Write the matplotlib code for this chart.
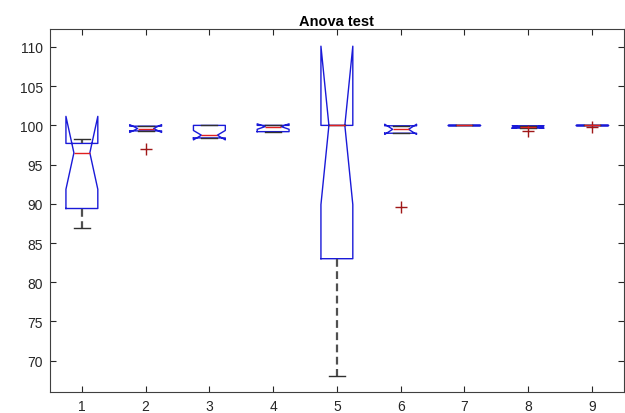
import matplotlib
matplotlib.use("Agg")
import matplotlib.pyplot as plt

plt.rcParams['font.family'] = ['Liberation Sans', 'DejaVu Sans']

# group labels and box statistics
groups = [1, 2, 3, 4, 5, 6, 7, 8, 9]
medians = [96.5, 99.6, 98.75, 99.85, 100.0, 99.5, 100.0, 99.8, 100.0]
q1s = [89.4, 99.3, 98.4, 99.2, 83.0, 99.0, 100.0, 99.65, 100.0]
q3s = [97.7, 99.9, 100.0, 100.0, 100.0, 99.95, 100.0, 99.95, 100.0]
notch_lo = [91.85, 99.1, 98.15, 99.5, 89.9, 98.85, 100.0, 99.65, 100.0]
notch_hi = [101.15, 100.1, 99.35, 100.2, 110.1, 100.15, 100.0, 99.95, 100.0]
whisk_lo = [86.9, 99.3, 98.4, 99.2, 68.0, 99.0, 100.0, 99.65, 100.0]
whisk_hi = [98.25, 99.9, 100.0, 100.0, 100.0, 99.95, 100.0, 99.95, 100.0]
outliers = [[], [97.0], [], [], [], [89.6], [], [99.3], [99.85]]

stats = []
for i in range(len(groups)):
    stats.append(dict(med=medians[i], q1=q1s[i], q3=q3s[i],
                      cilo=notch_lo[i], cihi=notch_hi[i],
                      whislo=whisk_lo[i], whishi=whisk_hi[i],
                      fliers=outliers[i], label=str(groups[i])))

fig = plt.figure(figsize=(6.25, 4.14), dpi=100)
ax = fig.add_axes([0.08, 0.0507, 0.918, 0.877])

ax.bxp(stats, positions=groups, widths=0.5, shownotches=True,
       boxprops=dict(color='#1a1ad8', linewidth=1.0),
       medianprops=dict(color='#e02020', linewidth=1.0),
       whiskerprops=dict(color='#505050', linewidth=1.6, linestyle=(0, (3.5, 2))),
       capprops=dict(color='#303030', linewidth=1.0),
       flierprops=dict(marker='+', markeredgecolor='#a01818', markersize=8,
                       markeredgewidth=1.0, linestyle='none'))

ax.set_xlim(0.5, 9.5)
ax.set_ylim(66.0, 112.3)
ax.set_yticks([70, 75, 80, 85, 90, 95, 100, 105, 110])
ax.set_xticks(groups)
ax.set_xticklabels([str(g) for g in groups])
ax.tick_params(direction='in', top=True, right=True, length=4,
               labelsize=10, colors='#262626', width=0.8)
ax.tick_params(axis='y', pad=5)
ax.tick_params(axis='x', pad=5)
for s in ax.spines.values():
    s.set_color('#404040')
    s.set_linewidth(0.8)
ax.set_title('Anova test', fontsize=10.5, fontweight='bold', pad=3)

fig.savefig('out.png', dpi=100)
